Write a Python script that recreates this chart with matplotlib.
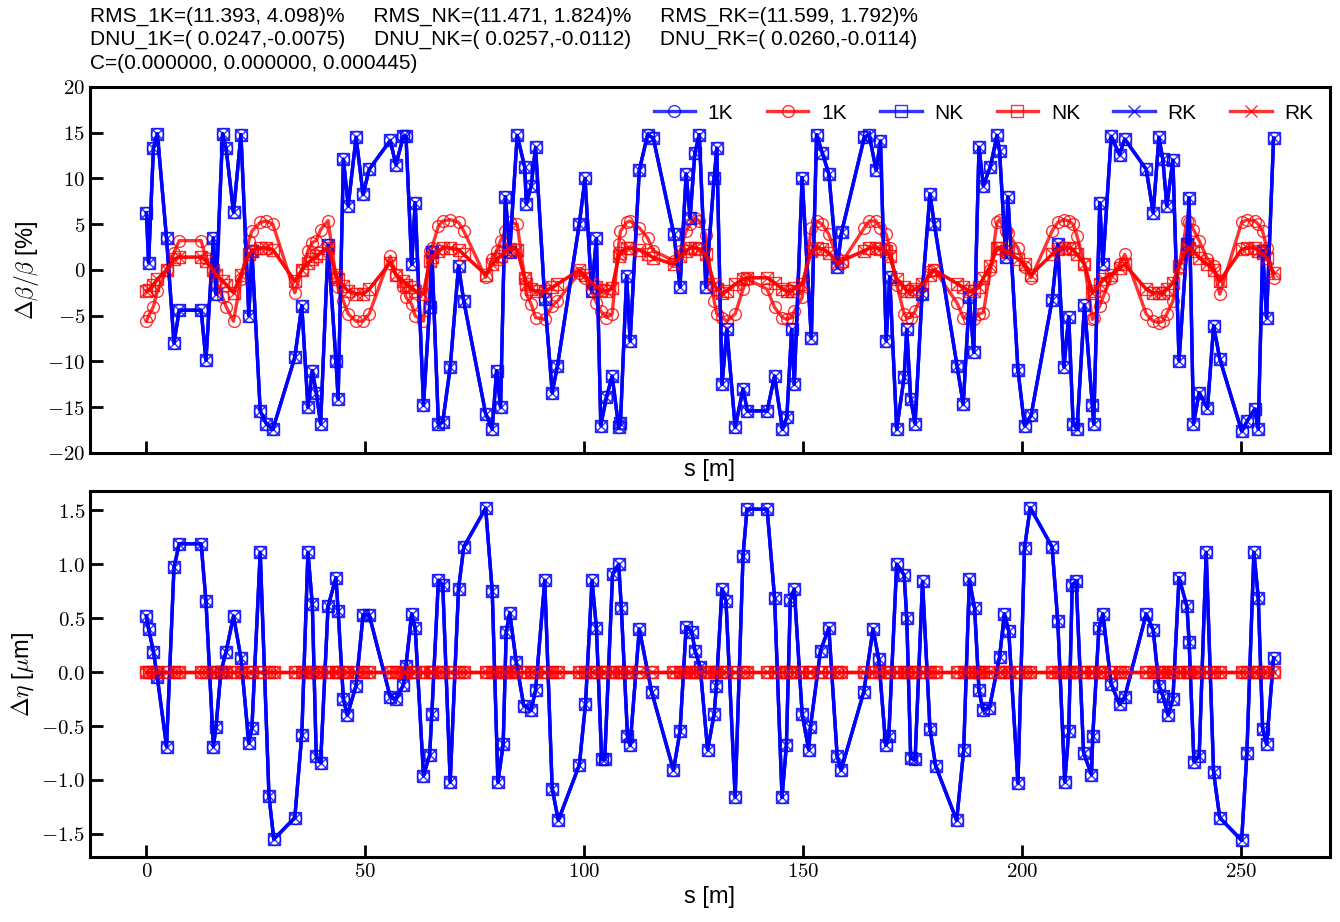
import matplotlib.pyplot as plt
import numpy as np
from matplotlib.ticker import FuncFormatter, MultipleLocator

plt.rcParams["font.family"] = ["Liberation Sans", "DejaVu Sans"]
plt.rcParams["mathtext.fontset"] = "cm"

# upper panel: position s [m] and delta beta / beta [%]
s_beta = [0.0, 0.5, 1.6, 2.5, 4.6, 6.3, 7.5, 12.5, 13.6, 15.3, 15.9, 17.4, 18.2, 19.9, 21.6, 23.4, 24.1,
          26.0, 27.4, 28.9, 33.9, 35.5, 36.9, 37.9, 38.8, 39.8, 41.5, 43.3, 43.8, 45.0, 46.1, 47.9, 49.5,
          50.9, 55.7, 57.0, 58.7, 59.3, 60.6, 61.4, 63.3, 64.7, 65.2, 66.7, 67.7, 69.4, 71.3, 72.5, 77.5,
          79.0, 80.0, 80.9, 82.0, 83.0, 84.7, 86.4, 86.8, 87.9, 88.9, 91.0, 92.7, 93.9, 98.9, 100.2, 101.7,
          102.8, 103.8, 105.1, 106.4, 107.9, 108.3, 109.7, 110.5, 112.6, 114.5, 115.8, 120.5, 121.9, 123.3,
          124.2, 125.3, 126.3, 127.8, 129.7, 130.3, 131.5, 132.6, 134.5, 136.3, 137.3, 141.8, 143.5, 145.3,
          146.3, 147.4, 148.0, 149.8, 151.9, 153.1, 154.4, 155.9, 157.8, 158.8, 164.0, 165.1, 166.7, 167.7,
          169.0, 169.8, 171.4, 173.1, 173.7, 174.6, 175.6, 177.2, 179.0, 180.0, 185.2, 186.6, 188.0, 189.0,
          190.2, 191.2, 192.8, 194.3, 194.9, 196.3, 196.8, 199.1, 200.6, 202.1, 206.9, 208.2, 209.6, 210.7,
          211.7, 212.6, 214.3, 216.1, 216.4, 217.8, 218.5, 220.4, 222.3, 223.5, 228.4, 230.0, 231.3, 232.2,
          233.1, 234.5, 235.9, 237.7, 238.2, 239.2, 240.5, 242.4, 243.8, 245.2, 250.2, 251.5, 253.2, 254.0,
          255.0, 255.9, 257.5]
dbb_blue = [6.25, 0.8, 13.3, 14.9, 3.45, -8.0, -4.4, -4.4, -9.85, 3.5, -2.65, 14.9, 13.3, 6.3, 14.8, -5.0, 2.1,
            -15.4, -16.8, -17.4, -9.55, -3.9, -15.0, -11.0, -13.4, -16.8, 2.7, -9.9, -14.1, 12.1, 7.0, 14.5, 8.25,
            11.0, 14.15, 11.5, 14.6, 14.6, 0.6, 7.35, -14.8, -4.0, 2.0, -16.8, -16.6, -10.65, 0.45, -3.4, -15.7,
            -17.4, -11.0, -15.0, 8.0, 2.0, 14.7, 11.3, 7.2, 9.2, 13.4, -3.2, -13.4, -10.5, 5.05, 10.0, -2.3,
            3.45, -17.0, -13.9, -11.6, -17.2, -16.7, -0.65, -7.75, 10.9, 14.8, 14.4, 3.9, -1.85, 10.5,
            5.7, 12.8, 14.8, -1.85, 10.1, 13.3, -12.5, -6.5, -17.2, -13.0, -15.4, -15.4, -11.6, -17.4,
            -16.1, -6.5, -12.5, 10.1, -7.45, 14.8, 12.8, 10.5, 0.3, 4.1, 14.5, 14.8, 10.9, 14.1,
            -7.75, -0.75, -17.4, -11.7, -6.5, -14.1, -16.8, -2.6, 8.3, 5.0, -10.5, -14.7, -3.0, -9.0,
            13.4, 9.2, 11.3, 14.7, 13.0, 1.4, 8.0, -10.9, -17.0, -15.9, -3.3, 2.8, -10.6, -5.1,
            -16.8, -17.4, -3.8, -14.8, -16.8, 7.35, 0.6, 14.6, 12.6, 14.3, 11.0, 6.25, 14.5, 12.1,
            7.0, 12.0, -9.9, 2.8, 7.9, -16.8, -13.4, -15.1, -6.1, -9.7, -17.6, -16.5, -15.2, -17.4,
            2.1, -5.2, 14.4]
dbb_red_1k = [-5.6, -5.0, -4.0, -2.3, 0.0, 1.9, 3.2, 3.2, 1.3, 0.0, -1.3, -3.0, -4.0, -5.6, -1.0, 3.2, 4.25,
              5.2, 5.35, 5.0, -2.5, 0.0, 2.1, 3.0, 3.2, 4.4, 5.4, -0.8, -1.9, -3.4, -4.8, -5.6, -5.6,
              -4.8, 1.5, -0.5, -1.9, -3.0, -3.75, -5.0, -5.6, 2.1, 2.4, 4.8, 5.35, 5.5, 5.2, 4.25, -0.8,
              1.2, 2.1, 3.2, 4.25, 5.2, 5.0, -0.85, -2.65, -3.75, -5.2, -5.4, -3.9, -3.4, -0.3, -0.85, -2.3,
              -3.6, -4.5, -5.2, -4.8, 2.8, 4.25, 5.2, 5.35, 4.6, 3.5, 2.1, 1.0, 2.1, 4.25,
              5.0, 5.7, 5.35, 3.8, -3.4, -4.8, -5.2, -5.6, -4.8, -2.1, -1.0, -2.1, -4.1, -5.2,
              -5.4, -5.2, -4.5, -3.0, 4.6, 5.35, 5.0, 3.9, 1.35, 0.8, 4.6, 5.35, 5.35, 4.6,
              3.9, 2.4, -1.6, -4.8, -5.2, -5.2, -4.5, -2.65, -0.1, 0.0, -3.6, -5.2, -5.4, -5.4,
              -4.8, -4.65, 0.0, 5.2, 5.5, 4.25, 4.0, 2.4, 0.3, -0.85, 4.25, 5.2, 5.5, 5.35,
              5.0, 3.7, 0.6, -5.4, -5.2, -3.9, -3.0, -0.85, 0.6, 1.7, -4.8, -5.6, -5.75, -5.6,
              -4.8, -3.4, 0.25, 5.35, 5.2, 4.4, 3.2, 1.2, 0.45, -2.65, 5.2, 5.5, 5.35, 5.0,
              4.25, 2.4, -0.85]
dbb_red_nk = [-2.3, -2.2, -1.6, -1.0, 0.0, 1.2, 1.4, 1.4, 1.0, 0.0, -0.5, -1.2, -1.6, -2.5, -0.5, 1.7, 2.1,
              2.4, 2.4, 2.2, -1.2, 0.0, 0.8, 1.2, 1.5, 1.9, 2.4, -0.5, -1.0, -1.75, -2.3, -2.6, -2.6,
              -2.1, 0.8, -0.5, -1.2, -1.6, -1.9, -2.3, -2.6, 1.0, 1.4, 2.1, 2.4, 2.4, 2.2, 1.7, -0.5,
              0.6, 1.2, 1.5, 2.1, 2.25, 2.2, -0.85, -1.55, -2.1, -2.3, -2.3, -1.9, -1.55, 0.0, -0.6, -1.4,
              -1.85, -2.2, -2.3, -2.0, 1.5, 1.9, 2.4, 2.4, 2.2, 1.7, 1.35, 0.6, 1.5, 2.1,
              2.4, 2.4, 2.3, 1.7, -1.55, -2.1, -2.5, -2.3, -1.55, -1.0, -0.85, -0.85, -1.4, -2.1,
              -2.3, -2.3, -2.0, -1.55, 2.1, 2.4, 2.3, 1.9, 0.8, 1.0, 2.1, 2.4, 2.4, 2.3,
              2.1, 1.5, -1.0, -1.9, -2.3, -2.3, -2.1, -1.55, -0.5, 0.0, -1.5, -1.9, -2.3, -2.3,
              -1.85, -0.85, 0.4, 2.4, 2.4, 2.1, 2.0, 1.2, 0.6, -0.5, 1.7, 2.25, 2.4, 2.4,
              2.25, 1.7, 0.6, -2.5, -2.3, -1.55, -1.0, -0.5, 0.25, 0.6, -2.1, -2.5, -2.5, -2.5,
              -2.1, -1.4, 0.45, 2.25, 2.4, 2.1, 1.35, 0.6, 0.0, -1.2, 2.25, 2.4, 2.4, 2.1,
              1.8, 1.35, -0.3]
dbb_red_rk = dbb_red_nk

# lower panel: position s [m] and delta eta [um]
s_eta = [0.0, 0.5, 1.6, 2.5, 4.6, 6.3, 7.5, 12.5, 13.6, 15.3, 15.9, 17.0, 18.2, 19.9, 21.6, 23.4, 24.1,
         26.0, 28.0, 29.1, 33.9, 35.5, 36.9, 37.9, 38.8, 39.8, 41.5, 43.3, 43.8, 45.0, 45.9, 47.9, 49.5,
         50.9, 55.7, 57.0, 58.7, 59.3, 60.6, 61.4, 63.3, 64.7, 65.2, 66.7, 67.7, 69.4, 71.3, 72.5, 77.5,
         79.0, 80.3, 81.5, 82.2, 83.0, 84.5, 86.2, 87.9, 88.9, 91.0, 92.7, 94.1, 98.9, 100.3, 101.8, 102.8,
         104.0, 104.7, 106.5, 107.9, 108.5, 109.9, 110.5, 112.6, 115.4, 120.4, 121.9, 123.3, 124.6, 125.3,
         126.5, 128.2, 129.7, 130.2, 131.5, 132.4, 134.5, 136.3, 137.2, 141.8, 143.5, 145.2, 146.2, 147.1,
         148.0, 149.8, 151.3, 151.7, 154.0, 155.9, 157.8, 158.7, 163.9, 166.0, 167.3, 168.9, 169.6, 171.4,
         173.1, 173.7, 174.6, 175.6, 177.3, 179.0, 180.3, 185.1, 186.7, 188.0, 189.2, 190.2, 191.1, 192.6,
         194.9, 196.0, 197.0, 199.1, 200.6, 201.9, 206.9, 208.2, 209.8, 210.7, 211.5, 212.4, 214.1, 215.9,
         216.2, 217.6, 218.5, 220.4, 222.3, 223.5, 228.4, 230.0, 231.3, 232.2, 233.4, 234.5, 235.9, 237.7,
         238.2, 239.3, 240.5, 242.1, 243.8, 245.2, 250.2, 251.4, 253.0, 254.0, 255.0, 255.9, 257.5]
deta_blue = [0.52, 0.40, 0.19, -0.05, -0.69, 0.97, 1.19, 1.19, 0.66, -0.69, -0.51, 0.0, 0.19, 0.52, 0.13, -0.66, -0.52,
             1.11, -1.15, -1.55, -1.35, -0.58, 1.11, 0.63, -0.78, -0.84, 0.61, 0.875, 0.57, -0.25, -0.40, -0.125, 0.53,
             0.53, -0.23, -0.25, -0.12, 0.06, 0.54, 0.41, -0.96, -0.77, -0.39, 0.85, 0.81, -1.02, 0.77, 1.16, 1.52,
             0.75, -1.02, -0.67, 0.375, 0.55, 0.09, -0.31, -0.35, -0.17, 0.85, -1.08, -1.375, -0.86, -0.30, 0.85, 0.41,
             -0.81, -0.81, 0.91, 1.0, 0.59, -0.59, -0.68, 0.40, -0.18, -0.91, -0.55, 0.42, 0.375, 0.2,
             0.05, -0.72, -0.39, -0.13, 0.77, 0.66, -1.16, 1.08, 1.51, 1.51, 0.69, -1.16, -0.68, 0.67,
             0.77, -0.39, -0.72, -0.51, 0.2, 0.41, -0.78, -0.91, -0.18, 0.40, 0.12, -0.68, -0.59, 1.0,
             0.9, 0.5, -0.80, -0.81, 0.84, -0.525, -0.87, -1.375, -0.725, 0.86, 0.59, -0.17, -0.35, -0.33,
             0.14, 0.54, 0.38, -1.03, 1.15, 1.525, 1.16, 0.47, -1.02, -0.55, 0.81, 0.84, -0.75, -0.95,
             -0.59, 0.41, 0.54, -0.11, -0.30, -0.23, 0.54, 0.39, -0.125, -0.22, -0.40, -0.25, 0.875, 0.61,
             0.28, -0.83, -0.775, 1.11, -0.93, -1.35, -1.56, -0.75, 1.11, 0.69, -0.525, -0.67, 0.13]
deta_red = [0.0] * len(s_eta)

labels = ["1K", "NK", "RK"]
markers = ["o", "s", "x"]
red_top = [dbb_red_1k, dbb_red_nk, dbb_red_rk]

header = ("RMS_1K=(11.393, 4.098)%     RMS_NK=(11.471, 1.824)%     RMS_RK=(11.599, 1.792)%\n"
          "DNU_1K=( 0.0247,-0.0075)     DNU_NK=( 0.0257,-0.0112)     DNU_RK=( 0.0260,-0.0114)\n"
          "C=(0.000000, 0.000000, 0.000445)")

fig = plt.figure(figsize=(13.4, 9.22), dpi=100)
ax1 = fig.add_axes([0.0672, 0.5087, 0.9253, 0.397])
ax2 = fig.add_axes([0.0672, 0.0705, 0.9253, 0.397], sharex=ax1)

style = dict(lw=2.4, ms=8.5, mfc="none", mew=1, alpha=0.8)
for lab, mk, red in zip(labels, markers, red_top):
    ax1.plot(s_beta, dbb_blue, color="#0000ff", marker=mk, label=lab, **style)
    ax1.plot(s_beta, red, color="#ff0000", marker=mk, label=lab, **style)
    ax2.plot(s_eta, deta_blue, color="#0000ff", marker=mk, **style)
    ax2.plot(s_eta, deta_red, color="#ff0000", marker=mk, **style)

ax1.set_ylim(-20, 20)
ax1.yaxis.set_major_locator(MultipleLocator(5))
ax1.yaxis.set_major_formatter(FuncFormatter(lambda v, p: f"${v:g}$"))
ax2.yaxis.set_major_locator(MultipleLocator(0.5))
ax2.yaxis.set_major_formatter(FuncFormatter(lambda v, p: f"${v:.1f}$"))
ax2.xaxis.set_major_locator(MultipleLocator(50))
ax2.xaxis.set_major_formatter(FuncFormatter(lambda v, p: f"${v:g}$"))
ax1.tick_params(labelbottom=False)

for ax in (ax1, ax2):
    ax.tick_params(direction="in", length=9, width=2, labelsize=15)
    for sp in ax.spines.values():
        sp.set_linewidth(2.2)
    ax.set_xlabel("s [m]", fontsize=17)

ax1.set_ylabel(r"$\Delta\beta/\beta$ [%]", fontsize=17)
ax2.set_ylabel(r"$\Delta\eta$ [$\mu$m]", fontsize=17)

ax1.legend(ncol=6, loc="upper right", frameon=False, fontsize=15, handlelength=2.0,
           handletextpad=0.6, columnspacing=1.6, borderaxespad=0.4)

fig.text(0.0672, 0.993, header, ha="left", va="top", fontsize=15, linespacing=1.3)

fig.savefig("out.png", dpi=100)
